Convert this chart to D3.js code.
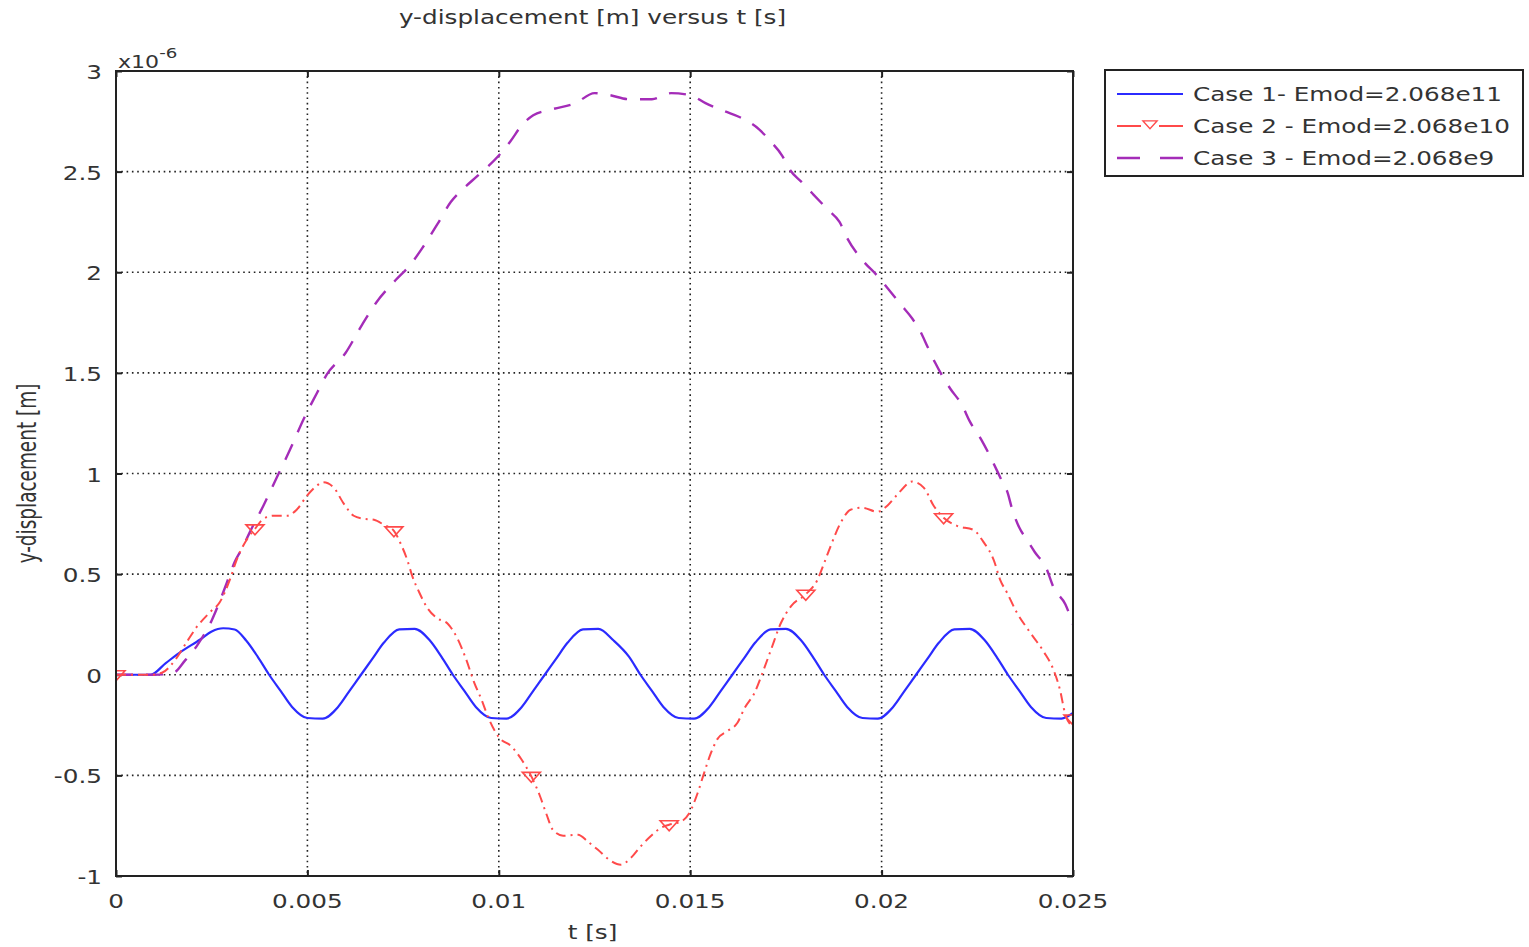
<!DOCTYPE html>
<html>
<head>
<meta charset="utf-8">
<script src="https://cdn.jsdelivr.net/npm/d3@7"></script>
<style>
    body { margin: 0; background: #fff; }
    text { font-family: "DejaVu Sans", Verdana, sans-serif; fill: #333; }
</style>
</head>
<body>
<div id="chart"></div>
<script>
// values in units of 1e-6 m
const case1 = [
    [0, 0], [0.0009, 0], [0.0013, 0.058], [0.0017, 0.115], [0.0022, 0.175], [0.0025, 0.215], [0.0028, 0.231],
    [0.0031, 0.225], [0.0034, 0.17], [0.0037, 0.09], [0.0040, 0], [0.0043, -0.08], [0.0046, -0.16], [0.0050, -0.215],
    [0.0054, -0.218], [0.0058, -0.16], [0.0061, -0.08], [0.0064, 0], [0.0067, 0.08], [0.0070, 0.16], [0.0074, 0.225],
    [0.0078, 0.228], [0.0082, 0.17], [0.0085, 0.09], [0.0088, 0], [0.0091, -0.08], [0.0094, -0.16], [0.0098, -0.215],
    [0.0102, -0.218], [0.0106, -0.16], [0.0109, -0.08], [0.0112, 0], [0.0115, 0.08], [0.0118, 0.16], [0.0122, 0.225],
    [0.0126, 0.228], [0.0130, 0.17], [0.0134, 0.09], [0.0137, 0], [0.0140, -0.08], [0.0143, -0.16], [0.0147, -0.215],
    [0.0151, -0.218], [0.0155, -0.16], [0.0158, -0.08], [0.0161, 0], [0.0164, 0.08], [0.0167, 0.16], [0.0171, 0.225],
    [0.0175, 0.228], [0.0179, 0.17], [0.0182, 0.09], [0.0185, 0], [0.0188, -0.08], [0.0191, -0.16], [0.0195, -0.215],
    [0.0199, -0.218], [0.0203, -0.16], [0.0206, -0.08], [0.0209, 0], [0.0212, 0.08], [0.0215, 0.16], [0.0219, 0.225],
    [0.0223, 0.228], [0.0227, 0.17], [0.0230, 0.09], [0.0233, 0], [0.0236, -0.08], [0.0239, -0.16], [0.0243, -0.215],
    [0.0247, -0.218], [0.025, -0.19]
];

const case2 = [
    [0, 0], [0.0009, 0], [0.0012, 0.01], [0.00157, 0.08], [0.00184, 0.16], [0.0021, 0.235], [0.00245, 0.31],
    [0.00271, 0.36], [0.00297, 0.47], [0.00315, 0.57], [0.00341, 0.67], [0.00363, 0.725], [0.00385, 0.775],
    [0.00411, 0.79], [0.00446, 0.79], [0.00472, 0.82], [0.00499, 0.89], [0.00525, 0.94], [0.00542, 0.957],
    [0.00569, 0.93], [0.00595, 0.85], [0.00621, 0.79], [0.00647, 0.775], [0.00674, 0.77], [0.007, 0.745],
    [0.00726, 0.715], [0.00744, 0.65], [0.00761, 0.57], [0.00774, 0.49], [0.00792, 0.41], [0.00814, 0.33],
    [0.0084, 0.28], [0.00866, 0.255], [0.00892, 0.18], [0.00914, 0.08], [0.00936, -0.04], [0.00955, -0.124],
    [0.00972, -0.21], [0.01, -0.31], [0.01033, -0.356], [0.01059, -0.42], [0.01085, -0.505], [0.01107, -0.6],
    [0.01124, -0.69], [0.01141, -0.77], [0.01168, -0.8], [0.01207, -0.795], [0.01233, -0.83], [0.01259, -0.87],
    [0.01289, -0.92], [0.01319, -0.944], [0.01345, -0.91], [0.01372, -0.85], [0.01398, -0.8], [0.01424, -0.76],
    [0.01445, -0.745], [0.01476, -0.73], [0.01497, -0.69], [0.01519, -0.59], [0.01536, -0.49], [0.01554, -0.39],
    [0.01571, -0.32], [0.01597, -0.28], [0.01623, -0.24], [0.01642, -0.166], [0.01668, -0.09], [0.01689, 0.01],
    [0.01711, 0.124], [0.01737, 0.257], [0.01763, 0.34], [0.01802, 0.4], [0.01832, 0.47], [0.0185, 0.555],
    [0.01867, 0.64], [0.01893, 0.755], [0.01919, 0.82], [0.0195, 0.83], [0.01989, 0.81], [0.02015, 0.84],
    [0.02041, 0.895], [0.0208, 0.96], [0.0211, 0.93], [0.02136, 0.84], [0.02162, 0.78], [0.02197, 0.74],
    [0.0224, 0.72], [0.02266, 0.66], [0.02293, 0.57], [0.0231, 0.47], [0.02327, 0.41], [0.02353, 0.31],
    [0.02388, 0.21], [0.02423, 0.116], [0.02449, 0.025], [0.02466, -0.075], [0.02479, -0.19], [0.025, -0.26]
];

const case2Markers = [
    [0, 0], [0.00363, 0.725], [0.00726, 0.715], [0.01085, -0.505], [0.01445, -0.745],
    [0.01802, 0.4], [0.02162, 0.78], [0.025, -0.22]
];

const case3 = [
    [0, 0], [0.001, 0], [0.0015, 0.01], [0.0018, 0.07], [0.0021, 0.14], [0.0023, 0.2], [0.0025, 0.27],
    [0.0027, 0.36], [0.0029, 0.46], [0.0031, 0.56], [0.0033, 0.63], [0.0035, 0.71], [0.00385, 0.84],
    [0.0042, 0.98], [0.00455, 1.12], [0.0049, 1.27], [0.00525, 1.4], [0.0055, 1.49], [0.006, 1.6],
    [0.0064, 1.73], [0.0068, 1.85], [0.0073, 1.96], [0.0077, 2.04], [0.008, 2.12], [0.0084, 2.24],
    [0.00875, 2.35], [0.0091, 2.42], [0.00945, 2.48], [0.01, 2.58], [0.0103, 2.65], [0.0106, 2.73],
    [0.0109, 2.78], [0.0114, 2.81], [0.012, 2.84], [0.0125, 2.89], [0.0129, 2.88], [0.0134, 2.86],
    [0.014, 2.86], [0.0145, 2.89], [0.015, 2.88], [0.0154, 2.84], [0.0159, 2.8], [0.0163, 2.77],
    [0.0168, 2.71], [0.0171, 2.65], [0.0174, 2.58], [0.0176, 2.51], [0.0179, 2.45], [0.0182, 2.39],
    [0.0186, 2.31], [0.0189, 2.25], [0.0191, 2.17], [0.0195, 2.06], [0.0199, 1.98], [0.0202, 1.91],
    [0.0205, 1.84], [0.0208, 1.77], [0.021, 1.71], [0.0212, 1.63], [0.0214, 1.55], [0.0216, 1.48],
    [0.0218, 1.42], [0.0221, 1.34], [0.0223, 1.26], [0.0226, 1.17], [0.0229, 1.06], [0.0231, 0.98],
    [0.0233, 0.9], [0.0234, 0.83], [0.0236, 0.73], [0.0238, 0.67], [0.024, 0.61], [0.0243, 0.53],
    [0.0245, 0.43], [0.0248, 0.35], [0.025, 0.25]
];

const xTicks = [0, 0.005, 0.01, 0.015, 0.02, 0.025];
const yTicks = [-1, -0.5, 0, 0.5, 1, 1.5, 2, 2.5, 3];
const legendLabels = ["Case 1- Emod=2.068e11", "Case 2 - Emod=2.068e10", "Case 3 - Emod=2.068e9"];

const W = 1529, H = 947;
const margin = { top: 71, right: 456, bottom: 71, left: 116 };
const width = W - margin.left - margin.right;
const height = H - margin.top - margin.bottom;
const sx = 1.3; // glyphs in the picture are stretched horizontally
const fs = 19;

const svg = d3.select("#chart").append("svg")
    .attr("width", W)
    .attr("height", H);

svg.append("defs").append("clipPath").attr("id", "plot")
    .append("rect").attr("width", width).attr("height", height);

const g = svg.append("g")
    .attr("transform", `translate(${margin.left},${margin.top})`);

const x = d3.scaleLinear().domain([0, 0.025]).range([0, width]);
const y = d3.scaleLinear().domain([-1, 3]).range([height, 0]);

function label(parent, px, py, str, size, anchor) {
    return parent.append("text")
        .attr("transform", `translate(${px},${py}) scale(${sx},1)`)
        .attr("text-anchor", anchor)
        .attr("font-size", size)
        .text(str);
}

// grid
g.append("g")
    .selectAll("line")
    .data(xTicks.slice(1, -1))
    .join("line")
    .attr("x1", d => x(d)).attr("x2", d => x(d))
    .attr("y1", 0).attr("y2", height)
    .attr("stroke", "#222")
    .attr("stroke-width", 1.6)
    .attr("stroke-dasharray", "1.6,3.7");

g.append("g")
    .selectAll("line")
    .data(yTicks.slice(1, -1))
    .join("line")
    .attr("x1", 0).attr("x2", width)
    .attr("y1", d => y(d)).attr("y2", d => y(d))
    .attr("stroke", "#222")
    .attr("stroke-width", 1.6)
    .attr("stroke-dasharray", "1.6,3.7");

// inward ticks on all sides
g.append("g").call(d3.axisBottom(x).tickValues(xTicks).tickSize(-6).tickFormat(""))
    .attr("transform", `translate(0,${height})`);
g.append("g").call(d3.axisTop(x).tickValues(xTicks).tickSize(-6).tickFormat(""));
g.append("g").call(d3.axisLeft(y).tickValues(yTicks).tickSize(-6).tickFormat(""));
g.append("g").call(d3.axisRight(y).tickValues(yTicks).tickSize(-6).tickFormat(""))
    .attr("transform", `translate(${width},0)`);
g.selectAll(".domain").remove();
g.selectAll(".tick line").attr("stroke", "#222").attr("stroke-width", 2);

// lines
const line = d3.line()
    .x(d => x(d[0]))
    .y(d => y(d[1]))
    .curve(d3.curveMonotoneX);

const plot = g.append("g").attr("clip-path", "url(#plot)");

plot.append("path")
    .datum(case1)
    .attr("d", line)
    .attr("fill", "none")
    .attr("stroke", "#2b2bff")
    .attr("stroke-width", 2.2);

plot.append("path")
    .datum(case3)
    .attr("d", line)
    .attr("fill", "none")
    .attr("stroke", "#a42cb8")
    .attr("stroke-width", 2.4)
    .attr("stroke-dasharray", "17,13");

plot.append("path")
    .datum(case2)
    .attr("d", line)
    .attr("fill", "none")
    .attr("stroke", "#ff4a4a")
    .attr("stroke-width", 2)
    .attr("stroke-dasharray", "10,5,2,5");

const tri = "M-9,-4L9,-4L0,6Z";
plot.append("g")
    .selectAll("path")
    .data(case2Markers)
    .join("path")
    .attr("d", tri)
    .attr("transform", d => `translate(${x(d[0])},${y(d[1])})`)
    .attr("fill", "none")
    .attr("stroke", "#ff4a4a")
    .attr("stroke-width", 1.6);

// frame
g.append("rect")
    .attr("width", width)
    .attr("height", height)
    .attr("fill", "none")
    .attr("stroke", "#222")
    .attr("stroke-width", 2);

// tick labels
xTicks.forEach(t => {
    label(g, x(t), height + 32, t === 0 ? "0" : String(t), fs, "middle");
});
yTicks.forEach(v => {
    label(g, -14, y(v) + 8, String(v), fs, "end");
});

// exponent
const ex = g.append("text")
    .attr("transform", `translate(2,-3) scale(${sx},1)`)
    .attr("font-size", 17);
ex.append("tspan").text("x10");
ex.append("tspan").attr("dy", -10).attr("font-size", 14).text("-6");

// titles
label(svg, margin.left + width / 2 - 2, 24, "y-displacement [m] versus t [s]", fs, "middle");
label(svg, margin.left + width / 2 - 2, 939, "t [s]", fs, "middle");
svg.append("text")
    .attr("transform", `translate(36,${margin.top + y(1)}) rotate(-90) scale(1,${sx})`)
    .attr("text-anchor", "middle")
    .attr("font-size", 20.5)
    .style("font-family", "'DejaVu Sans Condensed', 'DejaVu Sans', sans-serif")
    .text("y-displacement [m]");

// legend
const lg = svg.append("g").attr("transform", "translate(1105,70)");
lg.append("rect")
    .attr("width", 418).attr("height", 106)
    .attr("fill", "#fff")
    .attr("stroke", "#222").attr("stroke-width", 2);

const rowY = [24, 56, 88];
lg.append("line").attr("x1", 12).attr("x2", 78).attr("y1", rowY[0]).attr("y2", rowY[0])
    .attr("stroke", "#2b2bff").attr("stroke-width", 2.2);
lg.append("line").attr("x1", 12).attr("x2", 78).attr("y1", rowY[1]).attr("y2", rowY[1])
    .attr("stroke", "#ff4a4a").attr("stroke-width", 2).attr("stroke-dasharray", "24,18,24");
lg.append("path").attr("d", tri).attr("transform", `translate(45,${rowY[1] - 2}) scale(0.8)`)
    .attr("fill", "none").attr("stroke", "#ff4a4a").attr("stroke-width", 1.6);
lg.append("line").attr("x1", 12).attr("x2", 78).attr("y1", rowY[2]).attr("y2", rowY[2])
    .attr("stroke", "#a42cb8").attr("stroke-width", 2.4).attr("stroke-dasharray", "23,20");

legendLabels.forEach((s, i) => {
    label(lg, 88, rowY[i] + 7, s, fs, "start");
});
</script>
</body>
</html>
